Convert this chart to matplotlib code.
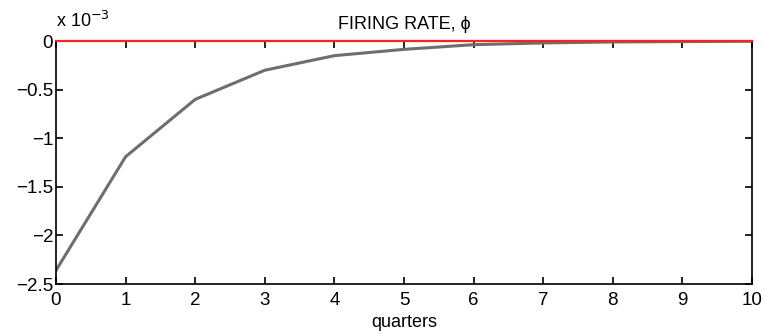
import numpy as np
import matplotlib.pyplot as plt
from matplotlib.ticker import FuncFormatter

plt.rcParams['font.family'] = ['Liberation Sans', 'DejaVu Sans']

# firing rate response, in units of 1e-3
quarters = [0, 1, 2, 3, 4, 5, 6, 7, 8, 9, 10]
firing = [-2.36, -1.19, -0.60, -0.30, -0.15, -0.085, -0.037, -0.019, -0.009, -0.005, -0.002]
baseline = [0] * len(quarters)

fig = plt.figure(figsize=(7.65, 3.34), dpi=100)
ax = fig.add_axes([0.0732, 0.1497, 0.9098, 0.7273])

ax.plot(quarters, firing, color='#6e6e6e', lw=2.2, zorder=2)
ax.plot(quarters, baseline, color='#ff2020', lw=1.6, zorder=3, clip_on=False)

ax.set_xlim(0, 10)
ax.set_ylim(-2.5, 0)
ax.set_xticks(range(0, 11))
ax.set_yticks([-2.5, -2, -1.5, -1, -0.5, 0])
ax.yaxis.set_major_formatter(FuncFormatter(lambda v, p: ('%g' % v).replace('-', '\u2212')))
ax.tick_params(direction='in', top=True, right=True, length=5, width=1.2,
               labelsize=13.5)
ax.tick_params(axis='x', pad=6)
ax.tick_params(axis='y', pad=2)
for s in ax.spines.values():
    s.set_linewidth(1.2)

ax.set_xlabel('quarters', fontsize=13, labelpad=3)
ax.set_title('FIRING RATE, \u03d5', fontsize=13, pad=9)
ax.text(0.0, 1.04, r'x 10$^{-3}$', transform=ax.transAxes, fontsize=13,
        ha='left', va='bottom')

fig.savefig('out.png', dpi=100)
